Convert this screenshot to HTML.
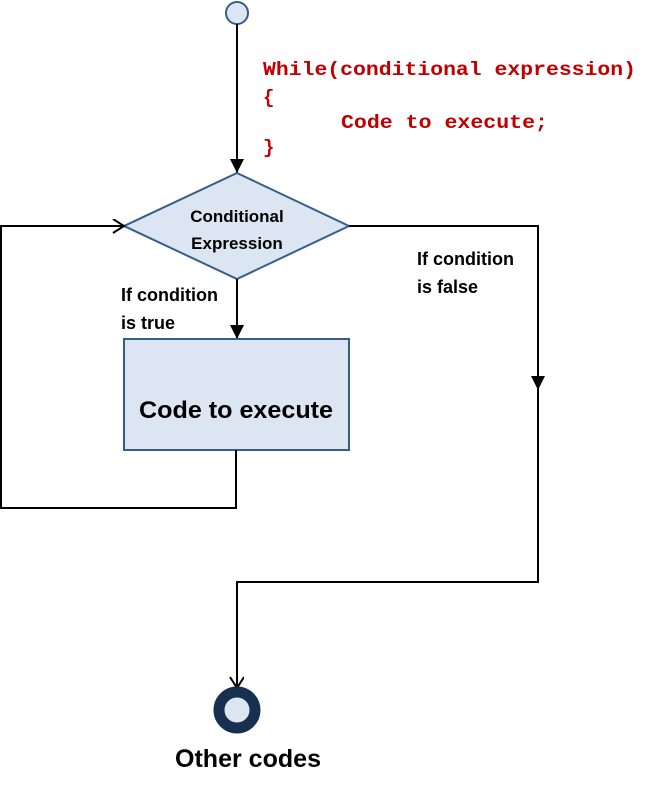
<!DOCTYPE html>
<html><head><style>body{margin:0;background:#fff}svg{display:block}</style></head><body>
<svg width="668" height="794" viewBox="0 0 668 794" xmlns="http://www.w3.org/2000/svg">
<defs>
<marker id="fa" markerWidth="16" markerHeight="16" refX="14" refY="7" orient="auto" markerUnits="userSpaceOnUse"><path d="M0,0 L14,7 L0,14 Z" fill="#000"/></marker>
<marker id="oa" markerWidth="16" markerHeight="16" refX="12" refY="7" orient="auto" markerUnits="userSpaceOnUse"><path d="M1,0 L12,7 L1,14" fill="none" stroke="#000" stroke-width="2"/></marker>
</defs>
<circle cx="237" cy="13" r="11" fill="#dce6f2" stroke="#385d8a" stroke-width="2"/>
<line x1="237" y1="24" x2="237" y2="173" stroke="#000" stroke-width="2" marker-end="url(#fa)"/>
<polygon points="237,173 349,226 237,279 124,226" fill="#dce6f2" stroke="#385d8a" stroke-width="2"/>
<text x="237" y="222" text-anchor="middle" font-family="Liberation Sans, sans-serif" font-weight="bold" font-size="17">Conditional</text>
<text x="237" y="249" text-anchor="middle" font-family="Liberation Sans, sans-serif" font-weight="bold" font-size="17">Expression</text>
<line x1="237" y1="279" x2="237" y2="339" stroke="#000" stroke-width="2" marker-end="url(#fa)"/>
<rect x="124" y="339" width="225" height="111" fill="#dce6f2" stroke="#385d8a" stroke-width="2"/>
<text x="236" y="418" text-anchor="middle" font-family="Liberation Sans, sans-serif" font-weight="bold" font-size="24" textLength="194" lengthAdjust="spacingAndGlyphs">Code to execute</text>
<polyline points="236,450 236,508 1,508 1,226 124,226" fill="none" stroke="#000" stroke-width="2" marker-end="url(#oa)"/>
<polyline points="349,226 538,226 538,390" fill="none" stroke="#000" stroke-width="2" marker-end="url(#fa)"/>
<polyline points="538,386 538,582 237,582 237,688" fill="none" stroke="#000" stroke-width="2" marker-end="url(#oa)"/>
<circle cx="237" cy="710" r="18" fill="#dce6f2" stroke="#17304f" stroke-width="11"/>
<text x="248" y="767" text-anchor="middle" font-family="Liberation Sans, sans-serif" font-weight="bold" font-size="25" textLength="146" lengthAdjust="spacingAndGlyphs">Other codes</text>
<g font-family="Liberation Sans, sans-serif" font-weight="bold" font-size="18">
<text x="121" y="301">If condition</text><text x="121" y="329">is true</text>
<text x="417" y="265">If condition</text><text x="417" y="293">is false</text>
</g>
<g font-family="Liberation Mono, monospace" font-weight="bold" font-size="19" fill="#c00000">
<text x="263" y="75" textLength="373" lengthAdjust="spacingAndGlyphs">While(conditional expression)</text>
<text x="263" y="103">{</text>
<text x="341" y="128" textLength="207" lengthAdjust="spacingAndGlyphs">Code to execute;</text>
<text x="263" y="153">}</text>
</g>
</svg>
</body></html>
